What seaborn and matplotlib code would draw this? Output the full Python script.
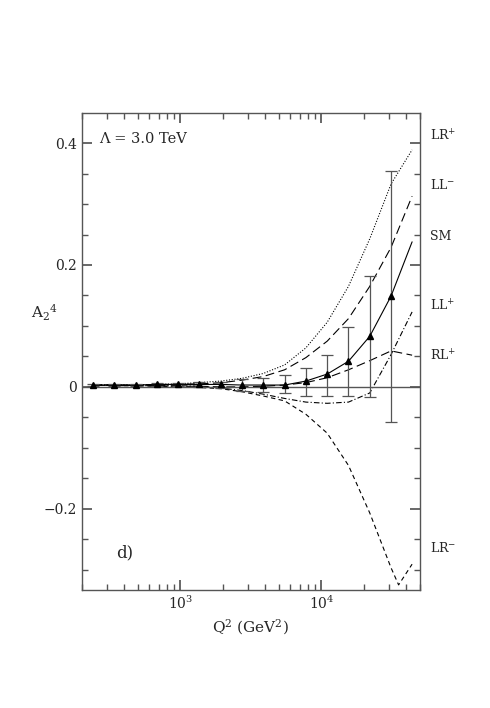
import numpy as np
import matplotlib
matplotlib.use("Agg")
import matplotlib.pyplot as plt
import seaborn as sns
from matplotlib.ticker import MultipleLocator, LogLocator, NullFormatter, FixedLocator

sns.set_theme(style="ticks")
plt.rcParams['font.family'] = ['DejaVu Serif']
plt.rcParams['mathtext.fontset'] = 'dejavuserif'

k = np.arange(15)
q2_pts = 240 * 10 ** (0.151 * k)
sm_pts = [0.003, 0.003, 0.003, 0.004, 0.004, 0.004, 0.004, 0.003, 0.003, 0.003, 0.0095, 0.021, 0.042, 0.083, 0.149]
err_up = [0.002, 0.002, 0.002, 0.002, 0.003, 0.004, 0.004, 0.010, 0.011, 0.017, 0.022, 0.032, 0.056, 0.099, 0.205]
err_dn = [0.002, 0.002, 0.002, 0.002, 0.003, 0.004, 0.006, 0.010, 0.011, 0.013, 0.025, 0.036, 0.057, 0.099, 0.206]

q2_curve = list(q2_pts) + [44000]
lr_plus = [0.003, 0.003, 0.003, 0.004, 0.005, 0.007, 0.0095, 0.014, 0.022, 0.036, 0.064, 0.106, 0.165, 0.243, 0.333, 0.389]
ll_minus = [0.003, 0.003, 0.003, 0.004, 0.004, 0.005, 0.0067, 0.011, 0.017, 0.028, 0.048, 0.075, 0.112, 0.165, 0.229, 0.313]
sm_curve = sm_pts + [0.238]
ll_plus = [0.003, 0.002, 0.002, 0.002, 0.001, 0.001, 0.0, 0.0, 0.001, 0.003, 0.007, 0.015, 0.028, 0.043, 0.059, 0.052]
rl_plus = [0.003, 0.003, 0.002, 0.002, 0.002, 0.001, -0.002, -0.006, -0.012, -0.019, -0.025, -0.027, -0.025, -0.010, 0.053, 0.123]
q2_lrm = list(q2_pts) + [35300, 44000]
lr_minus = [0.003, 0.002, 0.002, 0.001, 0.0, -0.001, -0.003, -0.008, -0.015, -0.023, -0.045, -0.076, -0.129, -0.207, -0.297, -0.325, -0.291]

labels = ["LR$^{+}$", "LL$^{-}$", "SM", "LL$^{+}$", "RL$^{+}$", "LR$^{-}$"]
label_y = [0.411, 0.332, 0.247, 0.133, 0.050, -0.265]

fig = plt.figure(figsize=(4.9, 7.08), dpi=100)
ax = fig.add_axes([0.167, 0.167, 0.690, 0.673])
c = 'black'
sns.lineplot(x=q2_curve, y=lr_plus, ax=ax, color=c, lw=0.8, linestyle=(0, (1, 1.5)))
sns.lineplot(x=q2_curve, y=ll_minus, ax=ax, color=c, lw=0.8, linestyle=(0, (8, 4)))
sns.lineplot(x=q2_curve, y=sm_curve, ax=ax, color=c, lw=0.8)
sns.lineplot(x=q2_curve, y=ll_plus, ax=ax, color=c, lw=0.8, linestyle=(0, (8, 4)))
sns.lineplot(x=q2_curve, y=rl_plus, ax=ax, color=c, lw=0.8, linestyle=(0, (5, 2, 1, 2)))
sns.lineplot(x=q2_lrm, y=lr_minus, ax=ax, color=c, lw=0.8, linestyle=(0, (4, 3)))
ax.errorbar(q2_pts, sm_pts, yerr=[err_dn, err_up], fmt='^', color=c, ms=4,
            ecolor='#555555', elinewidth=0.9, capsize=4, capthick=0.9)
ax.axhline(0, color='#555555', lw=1)

ax.set_xscale('log')
ax.set_xlim(200, 50000)
ax.set_ylim(-0.333, 0.449)
ax.yaxis.set_major_locator(FixedLocator([-0.2, 0, 0.2, 0.4]))
ax.set_yticklabels(['\u22120.2', '0', '0.2', '0.4'])
ax.yaxis.set_minor_locator(MultipleLocator(0.05))
ax.xaxis.set_major_locator(LogLocator(base=10, numticks=10))
ax.xaxis.set_minor_locator(LogLocator(base=10, subs=np.arange(2, 10), numticks=10))
ax.xaxis.set_minor_formatter(NullFormatter())
ax.tick_params(which='both', direction='in', top=True, right=True, labelsize=10, color='#555555')
ax.tick_params(which='major', length=7)
ax.tick_params(which='minor', length=4)
for s in ax.spines.values():
    s.set_color('#555555')
    s.set_linewidth(1)

ax.set_xlabel('Q$^2$ (GeV$^2$)', fontsize=11)
ax.set_ylabel('A$_2$$^4$', fontsize=11, rotation=0, labelpad=12)
ax.yaxis.set_label_coords(-0.11, 0.56)
ax.text(0.05, 0.96, '\u039b = 3.0 TeV', transform=ax.transAxes, fontsize=10.5, va='top')
ax.text(0.1, -0.273, 'd)', transform=ax.get_yaxis_transform(), fontsize=12, va='center')
for t, y in zip(labels, label_y):
    ax.text(1.03, y, t, transform=ax.get_yaxis_transform(), fontsize=9, va='center')

fig.savefig('out.png', dpi=100)
